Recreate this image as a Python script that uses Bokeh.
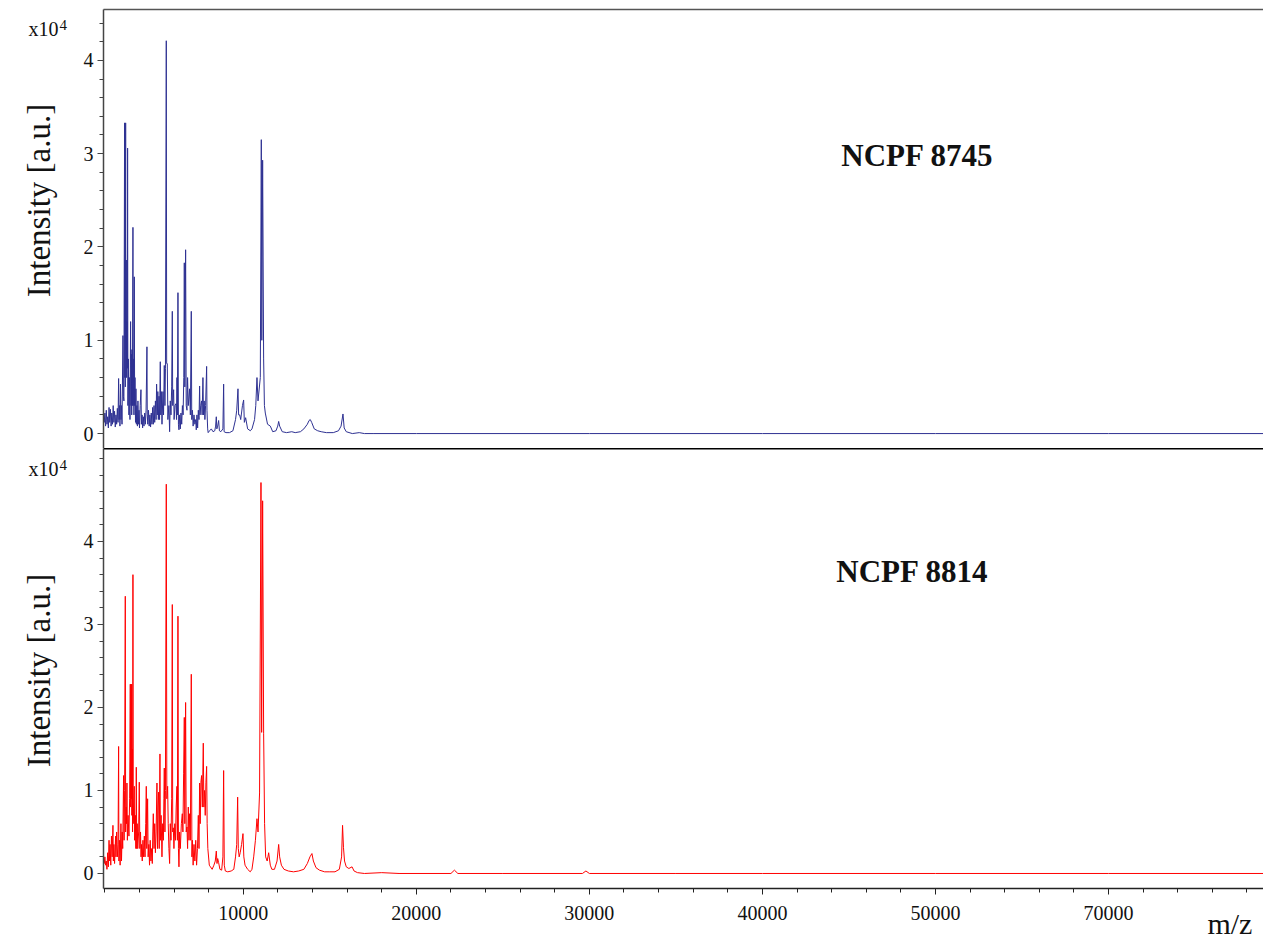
from math import pi

from bokeh.core.properties import value
from bokeh.embed import file_html
from bokeh.layouts import column, row
from bokeh.models import FixedTicker, Label, LinearAxis, Range1d
from bokeh.plotting import figure
from bokeh.resources import INLINE

# MALDI-TOF spectra, intensity in units of 10^4 counts
mz_8745 = [
    1920, 1960, 2000, 2040, 2080, 2120, 2160, 2200, 2240, 2280,
    2320, 2360, 2400, 2440, 2480, 2520, 2560, 2600, 2640, 2680,
    2720, 2760, 2794, 2820, 2850, 2870, 2900, 2930, 2960, 2990,
    3045, 3070, 3100, 3139, 3150, 3165, 3180, 3200, 3215, 3237,
    3255, 3280, 3300, 3313, 3330, 3360, 3390, 3420, 3450, 3486,
    3510, 3530, 3550, 3564, 3590, 3622, 3640, 3660, 3680, 3699,
    3720, 3740, 3770, 3795, 3820, 3850, 3880, 3910, 3940, 3970,
    4000, 4040, 4085, 4110, 4150, 4180, 4220, 4260, 4300, 4340,
    4380, 4431, 4450, 4480, 4520, 4560, 4600, 4640, 4680, 4720,
    4760, 4800, 4840, 4880, 4920, 4960, 4989, 5030, 5060, 5090,
    5130, 5160, 5202, 5230, 5260, 5300, 5356, 5390, 5433, 5470,
    5500, 5549, 5570, 5607, 5640, 5700, 5741, 5780, 5820, 5860,
    5896, 5920, 5973, 6000, 6050, 6108, 6140, 6165, 6190, 6223,
    6250, 6281, 6320, 6360, 6397, 6440, 6480, 6520, 6560, 6590,
    6620, 6666, 6700, 6744, 6780, 6820, 6898, 6940, 6994, 7020,
    7060, 7100, 7150, 7200, 7250, 7282, 7320, 7360, 7400, 7440,
    7475, 7500, 7540, 7590, 7620, 7667, 7700, 7740, 7780, 7820,
    7880, 7900, 7940, 7970, 8050, 8150, 8250, 8350, 8400, 8439,
    8470, 8520, 8574, 8620, 8700, 8820, 8863, 8890, 9000, 9200,
    9400, 9550, 9620, 9692, 9730, 9789, 9850, 9950, 10019, 10060,
    10134, 10250, 10405, 10500, 10650, 10720, 10790, 10850, 10982, 11040,
    11070, 11117, 11175, 11220, 11271, 11400, 11560, 11700, 11888, 11990,
    12043, 12100, 12250, 12500, 12800, 13000, 13300, 13500, 13700, 13800,
    13870, 13950, 14100, 14300, 14500, 14800, 15200, 15500, 15650, 15760,
    15830, 15950, 16300, 16700, 17000, 17500, 20000, 30000, 40000, 50000,
    60000, 68960,
]
int_8745 = [
    0.20, 0.12, 0.22, 0.08, 0.25, 0.10, 0.18, 0.06, 0.28, 0.12,
    0.26, 0.08, 0.22, 0.10, 0.30, 0.12, 0.24, 0.07, 0.20, 0.10,
    0.27, 0.12, 0.59, 0.15, 0.30, 0.08, 0.53, 0.15, 0.30, 0.10,
    1.05, 0.40, 0.35, 3.33, 0.60, 1.86, 0.50, 3.33, 0.90, 1.86,
    0.60, 1.20, 0.70, 3.06, 0.30, 0.80, 0.20, 0.60, 0.15, 1.20,
    0.30, 0.85, 0.20, 0.90, 0.30, 2.21, 0.30, 0.80, 0.20, 1.68,
    0.30, 0.60, 0.12, 0.48, 0.10, 0.30, 0.08, 0.35, 0.10, 0.25,
    0.06, 0.30, 0.47, 0.10, 0.20, 0.06, 0.18, 0.08, 0.22, 0.10,
    0.25, 0.93, 0.20, 0.10, 0.25, 0.08, 0.20, 0.07, 0.22, 0.10,
    0.28, 0.10, 0.30, 0.12, 0.35, 0.15, 0.53, 0.20, 0.45, 0.15,
    0.40, 0.15, 0.77, 0.20, 0.45, 0.10, 0.45, 0.20, 0.73, 0.30,
    0.70, 4.21, 0.75, 0.75, 0.15, 0.30, 0.02, 0.35, 0.20, 0.50,
    1.31, 0.30, 0.47, 0.15, 0.30, 0.32, 0.15, 0.60, 0.20, 1.51,
    0.10, 0.04, 0.20, 0.05, 0.22, 0.10, 0.30, 0.20, 0.60, 1.83,
    0.50, 1.97, 0.30, 0.25, 0.60, 0.30, 0.48, 0.20, 1.31, 0.15,
    0.25, 0.08, 0.20, 0.10, 0.15, 0.04, 0.20, 0.06, 0.25, 0.15,
    0.51, 0.20, 0.30, 0.35, 0.20, 0.60, 0.20, 0.35, 0.15, 0.30,
    0.72, 0.25, 0.05, 0.01, 0.03, 0.05, 0.02, 0.03, 0.08, 0.18,
    0.05, 0.08, 0.14, 0.03, 0.02, 0.05, 0.53, 0.02, 0.01, 0.01,
    0.03, 0.15, 0.25, 0.48, 0.20, 0.20, 0.15, 0.30, 0.36, 0.12,
    0.17, 0.05, 0.03, 0.05, 0.15, 0.30, 0.60, 0.35, 0.60, 3.15,
    1.00, 2.93, 0.80, 0.30, 0.22, 0.10, 0.08, 0.02, 0.03, 0.08,
    0.13, 0.08, 0.02, 0.01, 0.02, 0.01, 0.02, 0.05, 0.10, 0.14,
    0.15, 0.12, 0.05, 0.03, 0.02, 0.01, 0.01, 0.03, 0.08, 0.21,
    0.06, 0.02, 0.00, 0.01, 0.00, 0.00, 0.00, 0.00, 0.00, 0.00,
    0.00, 0.00,
]

mz_8814 = [
    1920, 1960, 2000, 2040, 2080, 2120, 2160, 2200, 2240, 2270,
    2300, 2340, 2380, 2420, 2466, 2490, 2520, 2560, 2620, 2640,
    2680, 2720, 2760, 2794, 2810, 2850, 2880, 2928, 2960, 3000,
    3030, 3081, 3110, 3140, 3179, 3200, 3230, 3250, 3275, 3300,
    3340, 3391, 3430, 3467, 3490, 3506, 3525, 3545, 3560, 3583,
    3600, 3622, 3640, 3660, 3699, 3720, 3760, 3790, 3815, 3840,
    3870, 3900, 3950, 3988, 4020, 4060, 4090, 4120, 4160, 4200,
    4240, 4280, 4320, 4360, 4393, 4420, 4470, 4500, 4540, 4580,
    4620, 4660, 4700, 4740, 4770, 4798, 4840, 4880, 4920, 4960,
    5010, 5040, 5070, 5106, 5140, 5183, 5210, 5250, 5299, 5340,
    5380, 5410, 5433, 5470, 5500, 5549, 5580, 5626, 5660, 5700,
    5741, 5780, 5820, 5860, 5896, 5920, 5954, 5990, 6040, 6080,
    6120, 6165, 6190, 6223, 6250, 6281, 6320, 6360, 6420, 6474,
    6510, 6550, 6590, 6620, 6666, 6700, 6744, 6780, 6820, 6860,
    6898, 6940, 6994, 7030, 7060, 7100, 7150, 7200, 7250, 7300,
    7350, 7400, 7440, 7475, 7510, 7550, 7590, 7630, 7687, 7720,
    7760, 7800, 7840, 7880, 7910, 7950, 8035, 8100, 8200, 8300,
    8380, 8439, 8480, 8520, 8574, 8650, 8750, 8820, 8863, 8900,
    8960, 9100, 9300, 9450, 9550, 9620, 9673, 9710, 9760, 9820,
    9900, 9981, 10030, 10100, 10250, 10400, 10500, 10600, 10700, 10790,
    10850, 10940, 11021, 11060, 11117, 11175, 11230, 11291, 11380, 11465,
    11560, 11650, 11800, 11950, 12043, 12100, 12200, 12350, 12600, 12900,
    13200, 13500, 13700, 13850, 13966, 14050, 14200, 14400, 14700, 15000,
    15300, 15550, 15680, 15736, 15790, 15850, 15950, 16100, 16285, 16400,
    16600, 17000, 18000, 19000, 22000, 22200, 22400, 25000, 29600, 29800,
    30000, 35000, 40000, 50000, 60000, 68960,
]
int_8814 = [
    0.22, 0.12, 0.20, 0.10, 0.15, 0.05, 0.25, 0.08, 0.40, 0.15,
    0.35, 0.10, 0.45, 0.20, 0.58, 0.15, 0.35, 0.12, 0.45, 0.20,
    0.50, 0.20, 0.35, 1.53, 0.15, 0.40, 0.10, 0.60, 0.15, 0.50,
    0.30, 1.18, 0.40, 1.00, 3.34, 0.50, 0.80, 0.60, 1.09, 0.40,
    0.70, 0.45, 0.90, 2.28, 0.80, 2.28, 0.90, 2.28, 0.70, 1.50,
    0.50, 3.60, 0.60, 0.80, 1.05, 0.40, 0.70, 0.30, 1.28, 0.30,
    0.60, 0.30, 0.50, 1.10, 0.30, 0.50, 0.20, 0.35, 0.15, 0.40,
    0.20, 0.45, 0.20, 0.60, 1.05, 0.30, 0.90, 0.20, 0.35, 0.10,
    0.40, 0.15, 0.30, 0.12, 0.50, 0.72, 0.30, 0.60, 0.25, 0.50,
    1.09, 0.30, 0.80, 0.98, 0.30, 1.44, 0.40, 0.70, 0.20, 0.60,
    0.40, 0.90, 1.27, 0.50, 1.00, 4.69, 0.90, 1.05, 0.60, 0.30,
    0.12, 0.60, 0.40, 0.90, 3.24, 0.50, 0.55, 0.30, 0.60, 0.40,
    0.80, 1.05, 0.40, 3.10, 0.30, 0.08, 0.50, 0.30, 0.60, 0.72,
    0.50, 1.20, 1.88, 0.60, 2.06, 0.50, 0.56, 0.30, 0.80, 0.40,
    0.72, 0.40, 2.40, 0.20, 0.40, 0.10, 0.35, 0.15, 0.40, 0.10,
    0.30, 0.70, 0.30, 1.09, 0.60, 1.10, 1.18, 0.80, 1.57, 0.80,
    1.00, 0.70, 1.10, 1.29, 0.60, 0.30, 0.10, 0.08, 0.05, 0.10,
    0.15, 0.27, 0.12, 0.18, 0.13, 0.05, 0.04, 0.20, 1.24, 0.10,
    0.03, 0.02, 0.03, 0.05, 0.20, 0.35, 0.92, 0.30, 0.20, 0.25,
    0.35, 0.48, 0.20, 0.10, 0.05, 0.02, 0.05, 0.20, 0.40, 0.66,
    0.50, 0.97, 4.71, 1.70, 4.49, 1.69, 0.60, 0.20, 0.15, 0.25,
    0.10, 0.05, 0.05, 0.15, 0.35, 0.20, 0.10, 0.05, 0.03, 0.02,
    0.03, 0.05, 0.12, 0.20, 0.24, 0.15, 0.07, 0.04, 0.02, 0.02,
    0.02, 0.05, 0.20, 0.58, 0.31, 0.15, 0.08, 0.06, 0.08, 0.03,
    0.01, 0.00, 0.01, 0.00, 0.00, 0.04, 0.00, 0.00, 0.00, 0.03,
    0.00, 0.00, 0.00, 0.00, 0.00, 0.00,
]

assert len(mz_8745) == len(int_8745)
assert len(mz_8814) == len(int_8814)

strain_labels = ["NCPF 8745", "NCPF 8814"]
y_major = [0, 1, 2, 3, 4]
x_major = [10000, 20000, 30000, 40000, 50000, 60000]
x_tick_text = {10000: "10000", 20000: "20000", 30000: "30000",
               40000: "40000", 50000: "50000", 60000: "70000"}
x_title_at = 68300

SERIF = "Liberation Serif"
INK = "#111111"
LEFT_W = 75
TOTAL_W = 1263

x_range = Range1d(1920, 68960)


def style_left_axis(p, minor_top):
    ax = p.yaxis[0]
    ax.ticker = FixedTicker(ticks=y_major,
                            minor_ticks=[i / 5 for i in range(0, minor_top + 1)])
    ax.axis_line_color = "#444444"
    ax.axis_line_width = 1.5
    ax.major_tick_line_color = "#444444"
    ax.minor_tick_line_color = "#444444"
    ax.major_tick_in = 0
    ax.major_tick_out = 6
    ax.minor_tick_in = 0
    ax.minor_tick_out = 4
    ax.major_label_standoff = 4
    ax.major_label_text_font = SERIF
    ax.major_label_text_font_size = "20px"
    ax.major_label_text_color = INK


def border_axis(color, width):
    return LinearAxis(ticker=FixedTicker(ticks=[]), axis_line_color=color,
                      axis_line_width=width, major_tick_line_color=None,
                      minor_tick_line_color=None, major_tick_in=0, major_tick_out=0,
                      major_label_standoff=0, major_label_text_font_size="0px")


def spectrum_figure(height, y_range, border_top, border_bottom, with_x_axis):
    p = figure(width=TOTAL_W - LEFT_W, height=height, x_range=x_range, y_range=y_range,
               x_axis_location="below" if with_x_axis else None,
               output_backend="svg", toolbar_location=None,
               min_border_left=103 - LEFT_W, min_border_right=0,
               min_border_top=border_top, min_border_bottom=border_bottom)
    p.outline_line_color = None
    p.grid.visible = False
    p.background_fill_color = "white"
    p.border_fill_color = "white"
    return p


def strain_label(x, y, text):
    return Label(x=x, y=y, text=text, text_font=SERIF, text_font_size="31px",
                 text_font_style="bold", text_color=INK, text_baseline="alphabetic")


# ---- upper spectrum ----
p1 = spectrum_figure(448, Range1d(-0.16, 4.545), 9, 0, False)
style_left_axis(p1, 22)
p1.add_layout(border_axis("#555555", 1.5), "above")
p1.line(mz_8745, int_8745, line_color="#2e3192", line_width=1)
p1.add_layout(strain_label(44560, 2.985, strain_labels[0]))

# ---- lower spectrum ----
p2 = spectrum_figure(498, Range1d(-0.181, 5.12), 0, 58, True)
style_left_axis(p2, 25)

xa = p2.below[0]
xa.ticker = FixedTicker(ticks=x_major, minor_ticks=list(range(2000, 70001, 2000)))
xa.major_label_overrides = x_tick_text
xa.axis_line_color = "#222222"
xa.axis_line_width = 1.5
xa.major_tick_line_color = "#222222"
xa.minor_tick_line_color = "#222222"
xa.major_tick_in = 0
xa.major_tick_out = 6
xa.minor_tick_in = 0
xa.minor_tick_out = 4
xa.major_label_standoff = 11
xa.major_label_text_font = SERIF
xa.major_label_text_font_size = "20px"
xa.major_label_text_color = INK

# axis title sitting at the right end, beside the tick labels
x_title = LinearAxis(ticker=FixedTicker(ticks=[x_title_at]),
                     major_label_overrides={x_title_at: "m/z"},
                     axis_line_color=None, major_tick_line_color=None,
                     minor_tick_line_color=None, major_tick_in=0, major_tick_out=0,
                     major_label_standoff=-16, major_label_text_font=SERIF,
                     major_label_text_font_size="30px", major_label_text_color=INK)
p2.add_layout(x_title, "below")
p2.add_layout(border_axis("#000000", 2), "above")

p2.line(mz_8814, int_8814, line_color="#ff0000", line_width=1)
p2.add_layout(strain_label(44270, 3.64, strain_labels[1]))

# ---- left margin: axis titles and exponent markers (pixel coordinates) ----
side = figure(width=LEFT_W, height=946, x_range=Range1d(0, LEFT_W),
              y_range=Range1d(946, 0), x_axis_location=None, y_axis_location=None,
              output_backend="svg", toolbar_location=None,
              min_border_left=0, min_border_right=0, min_border_top=0,
              min_border_bottom=0)
side.outline_line_color = None
side.grid.visible = False
side.text(x=[38, 38], y=[200, 670], text=["Intensity [a.u.]"] * 2, angle=pi / 2,
          text_align="center", text_baseline="alphabetic", text_font=value(SERIF),
          text_font_size="33px", text_color=INK)
side.text(x=[28, 28], y=[28, 468], text=["x10", "x10"], text_baseline="alphabetic",
          text_font=value(SERIF), text_font_size="20px", text_color=INK)
side.text(x=[59, 59], y=[24, 464], text=["4", "4"], text_baseline="alphabetic",
          text_font=value(SERIF), text_font_size="15px", text_color=INK)

layout = row(side, column(p1, p2, spacing=0), spacing=0)
open("out.html", "w").write(file_html(layout, INLINE))
